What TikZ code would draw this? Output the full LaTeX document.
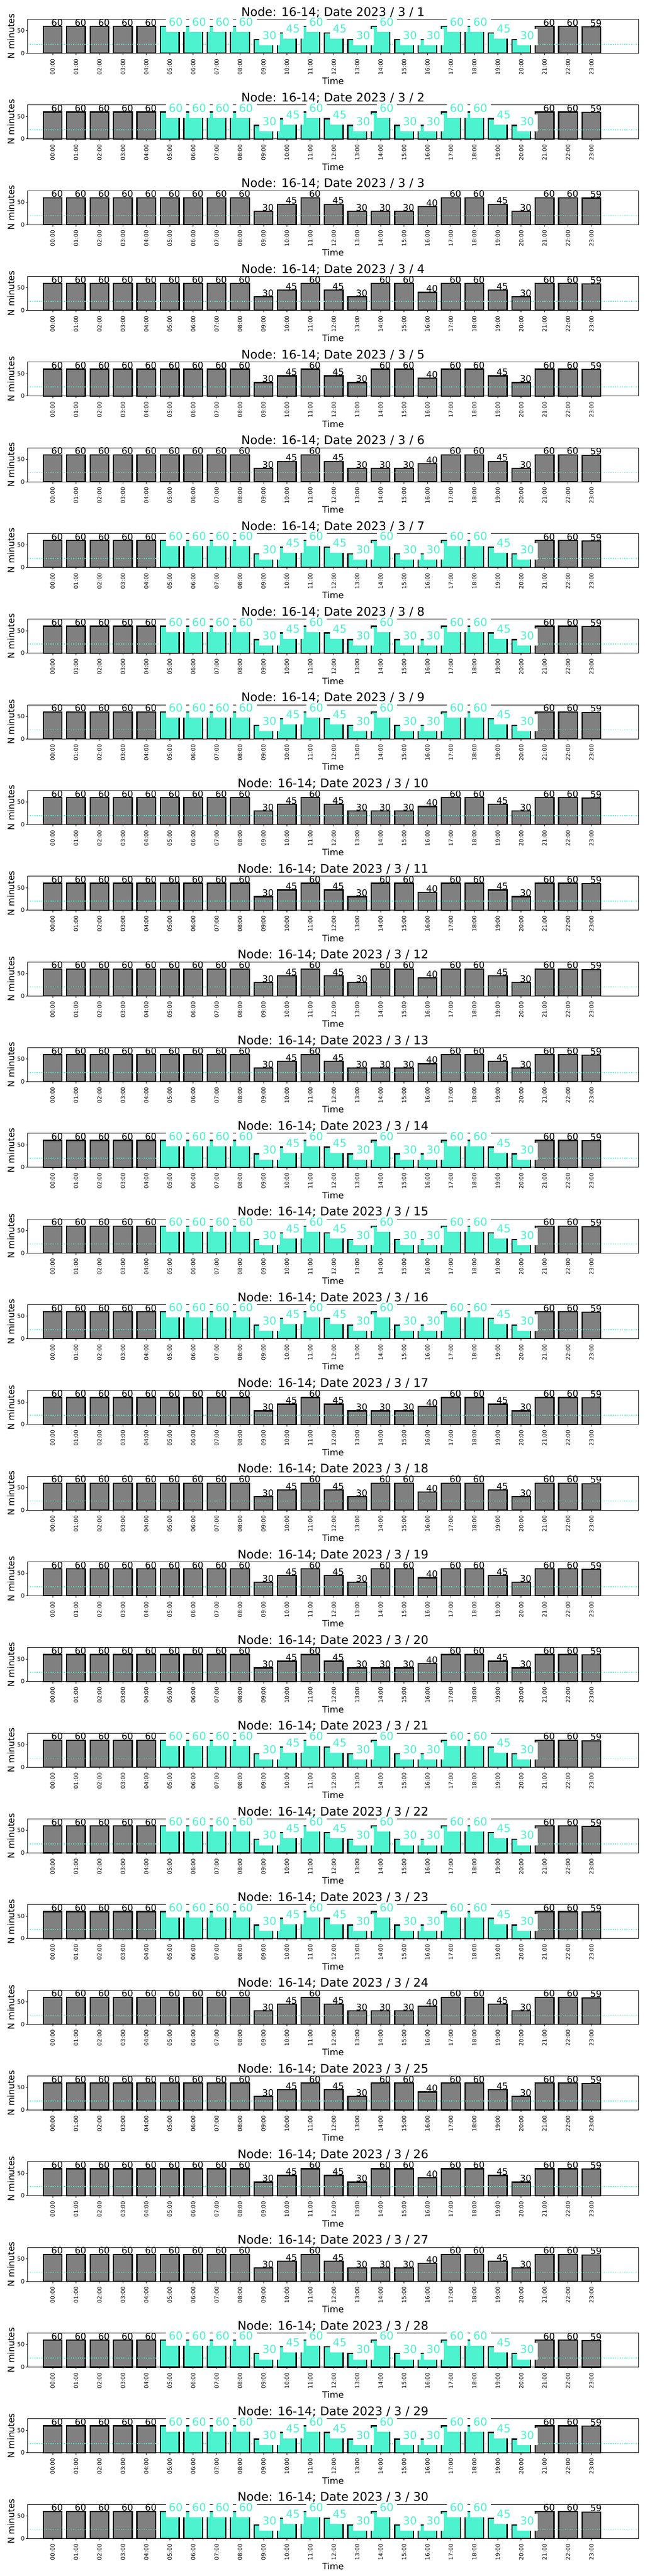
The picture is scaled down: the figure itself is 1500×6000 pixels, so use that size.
\documentclass[tikz,border=0pt]{standalone}
\usepackage{fontspec}
\setmainfont{DejaVu Sans}
\definecolor{cy}{RGB}{77,242,207}
\definecolor{bargray}{RGB}{128,128,128}
\def\valsA{{60,60,60,60,60,60,60,60,60,30,45,60,45,30,60,30,30,60,60,45,30,60,60,59}}
\def\valsB{{60,60,60,60,60,60,60,60,60,30,45,60,45,30,30,30,40,60,60,45,30,60,60,59}}
\def\valsC{{60,60,60,60,60,60,60,60,60,30,45,60,45,30,60,60,40,60,60,45,30,60,60,59}}
\def\daytypes{{1,1,2,3,3,2,1,1,1,2,3,3,2,1,1,1,2,3,3,2,1,1,1,2,3,3,2,1,1,1}}
\tikzset{
  barbox/.style={line width=2.7pt, draw=black, line join=miter},
  graybar/.style={barbox, fill=bargray},
  cybar/.style={barbox, fill=cy},
  spine/.style={line width=1.1pt, draw=black},
  tickmark/.style={line width=1.1pt, draw=black},
  thresh/.style={draw=cy, line width=2pt, dash pattern=on 2pt off 3.3pt},
  ttl/.style={font=\fontsize{27.7}{32}\selectfont, anchor=base, inner sep=0pt},
  axlab/.style={font=\fontsize{20.5}{24}\selectfont, inner sep=0pt},
  xtl/.style={font=\fontsize{13}{15}\selectfont, rotate=90, anchor=east, inner sep=0pt},
  ytl/.style={font=\fontsize{13.5}{16}\selectfont, anchor=east, inner sep=0pt},
  blackval/.style={font=\fontsize{21}{24}\selectfont, anchor=base west, inner sep=0pt},
  cyval/.style={font=\fontsize{25.5}{30}\selectfont, anchor=base west, inner sep=0pt, text=cy},
}
\begin{document}
\begin{tikzpicture}[x=1pt,y=-1pt]
\fill[white] (0,0) rectangle (1500,6000);
\useasboundingbox (0,0) rectangle (1500,6000);
\foreach \k in {0,...,29}{
  \pgfmathsetmacro\Tp{45+199.6*\k}
  \pgfmathsetmacro\Bt{124+199.6*\k}
  \pgfmathsetmacro\Mid{(\Tp+\Bt)/2}
  \pgfmathtruncatemacro\dd{\k+1}
  \pgfmathtruncatemacro\ty{\daytypes[\k]}
  \ifcase\ty\or\global\let\vals\valsA\or\global\let\vals\valsB\or\global\let\vals\valsC\fi
  % gray bars
  \foreach \hh in {0,...,23}{
    \pgfmathtruncatemacro\vv{\vals[\hh]}
    \pgfmathsetmacro\xc{122.4+54.53*\hh}
    \pgfmathsetmacro\yv{\Bt-1.045*\vv}
    \path[graybar] ({\xc-21.8},\Bt) rectangle ({\xc+21.8},\yv);
  }
  % threshold line
  \draw[thresh] (64.5,{\Bt-20.9}) -- (1485.7,{\Bt-20.9});
  % cyan bars
  \foreach \hh in {0,...,23}{
    \pgfmathtruncatemacro\vv{\vals[\hh]}
    \pgfmathtruncatemacro\cyflag{(\ty==1)*(\hh>4)*(\hh<21)}
    \pgfmathsetmacro\xc{122.4+54.53*\hh}
    \pgfmathsetmacro\yv{\Bt-1.045*\vv}
    \ifnum\cyflag=1
      \path[cybar] ({\xc-21.8},\Bt) rectangle ({\xc+21.8},\yv);
    \fi
  }
  % frame
  \draw[spine] (64.5,\Tp) rectangle (1485.7,\Bt);
  % y ticks
  \foreach \tv in {0,50}{
    \pgfmathsetmacro\yt{\Bt-1.045*\tv}
    \draw[tickmark] (64.5,\yt) -- (59.6,\yt);
    \node[ytl] at (57.5,\yt) {\tv};
  }
  % x ticks, tick labels, value labels
  \foreach \hh in {0,...,23}{
    \pgfmathtruncatemacro\vv{\vals[\hh]}
    \pgfmathtruncatemacro\cyflag{(\ty==1)*(\hh>4)*(\hh<21)}
    \pgfmathsetmacro\xc{122.4+54.53*\hh}
    \pgfmathsetmacro\yv{\Bt-1.045*\vv}
    \draw[tickmark] (\xc,\Bt) -- (\xc,{\Bt+4.9});
    \node[xtl] at (\xc,{\Bt+12.8}) {\ifnum\hh<10 0\fi\hh:00};
    \ifnum\cyflag=1
      \fill[white] ({\xc-9},{\yv-26}) rectangle ({\xc+38.5},{\yv+13.5});
      \node[cyval] at ({\xc-2.5},{\yv-0.5}) {\vv};
    \else
      \node[blackval] at ({\xc-3},{\yv-1}) {\vv};
    \fi
  }
  % titles and axis labels
  \node[ttl] at (775.1,{\Tp-7.6}) {Node: 16-14; Date 2023 / 3 / \dd};
  \node[axlab, anchor=base] at (775.1,{\Bt+72.5}) {Time};
  \node[axlab, rotate=90, anchor=base] at (33,\Mid) {N minutes};
}
\end{tikzpicture}
\end{document}
